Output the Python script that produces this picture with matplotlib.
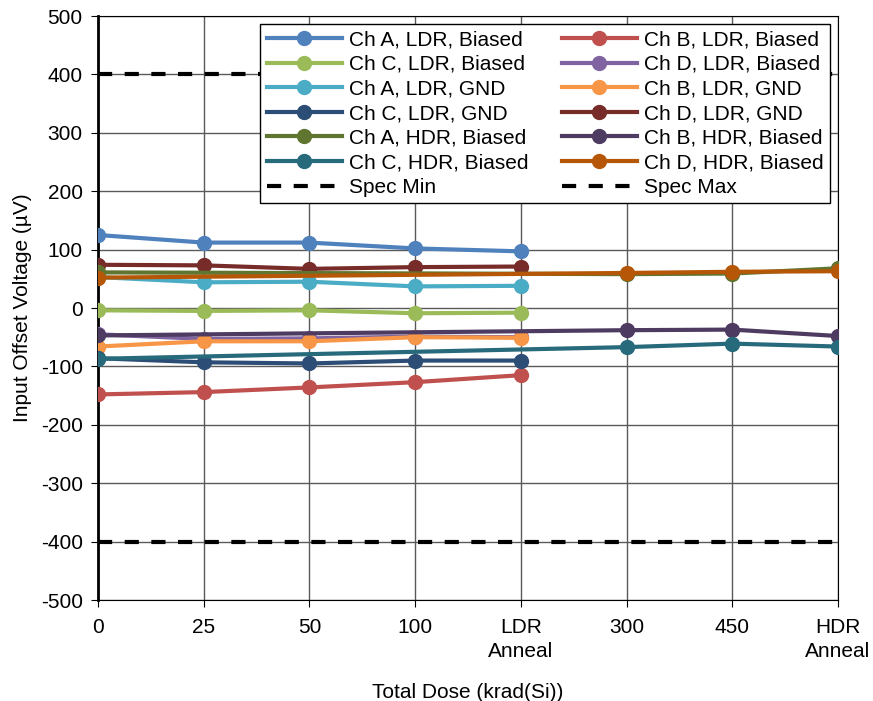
import matplotlib.pyplot as plt

plt.rcParams['font.family'] = ['Liberation Sans', 'DejaVu Sans']
plt.rcParams['axes.unicode_minus'] = False

# Categories on the x axis
categories = ['0', '25', '50', '100', 'LDR\nAnneal', '300', '450', 'HDR\nAnneal']
ldr_idx = [0, 1, 2, 3, 4]
hdr_idx = [0, 5, 6, 7]

# Input offset voltage (uV)
a_ldr_biased = [125, 112, 112, 102, 97]
b_ldr_biased = [-148, -144, -136, -127, -115]
c_ldr_biased = [-4, -5, -4, -9, -8]
d_ldr_biased = [-45, -53, -52, -49, -50]
a_ldr_gnd = [53, 44, 45, 37, 38]
b_ldr_gnd = [-66, -57, -57, -50, -51]
c_ldr_gnd = [-86, -93, -95, -90, -90]
d_ldr_gnd = [74, 73, 67, 70, 71]
a_hdr_biased = [61, 58, 59, 68]
b_hdr_biased = [-47, -38, -37, -48]
c_hdr_biased = [-87, -67, -61, -66]
d_hdr_biased = [52, 60, 62, 63]
spec_min = [400] * 8
spec_max = [-400] * 8

series = [
    ('Ch A, LDR, Biased', ldr_idx, a_ldr_biased, '#4F81BD'),
    ('Ch B, LDR, Biased', ldr_idx, b_ldr_biased, '#C0504D'),
    ('Ch C, LDR, Biased', ldr_idx, c_ldr_biased, '#9BBB59'),
    ('Ch D, LDR, Biased', ldr_idx, d_ldr_biased, '#8064A2'),
    ('Ch A, LDR, GND', ldr_idx, a_ldr_gnd, '#4BACC6'),
    ('Ch B, LDR, GND', ldr_idx, b_ldr_gnd, '#F79646'),
    ('Ch C, LDR, GND', ldr_idx, c_ldr_gnd, '#2C4D75'),
    ('Ch D, LDR, GND', ldr_idx, d_ldr_gnd, '#772C2A'),
    ('Ch A, HDR, Biased', hdr_idx, a_hdr_biased, '#5F7530'),
    ('Ch B, HDR, Biased', hdr_idx, b_hdr_biased, '#4D3B62'),
    ('Ch C, HDR, Biased', hdr_idx, c_hdr_biased, '#276A7C'),
    ('Ch D, HDR, Biased', hdr_idx, d_hdr_biased, '#B65708'),
]

fs = 15

fig = plt.figure(figsize=(8.73, 7.01), dpi=100)
ax = fig.add_axes([98 / 873, 1 - 600 / 701, 740 / 873, 584 / 701])

handles = []
for name, xs, ys, col in series:
    h, = ax.plot(xs, ys, '-o', color=col, lw=3, markersize=10, label=name, zorder=3)
    handles.append(h)

all_x = list(range(len(categories)))
h, = ax.plot(all_x, spec_min, '--', color='black', lw=3, dashes=(3.4, 3.0), label='Spec Min', zorder=2)
handles.append(h)
h, = ax.plot(all_x, spec_max, '--', color='black', lw=3, dashes=(3.4, 3.0), label='Spec Max', zorder=2)
handles.append(h)

ax.set_xlim(0, 7)
ax.set_ylim(-500, 500)
ax.set_xticks(all_x)
ax.set_xticklabels(categories, fontsize=fs, linespacing=1.3)
ax.set_yticks(range(-500, 501, 100))
ax.tick_params(axis='y', labelsize=fs, length=5, direction='out', pad=6)
ax.tick_params(axis='x', length=5, direction='out', pad=8)
ax.grid(True, color='#5a5a5a', lw=1, zorder=0)
ax.set_axisbelow(True)

ax.spines['left'].set_linewidth(2)
for s in ['top', 'right', 'bottom']:
    ax.spines[s].set_color('black')

ax.set_ylabel('Input Offset Voltage (µV)', fontsize=fs, labelpad=6)
ax.set_xlabel('Total Dose (krad(Si))', fontsize=fs, labelpad=16)

# Excel fills legend row by row, matplotlib column by column
order = handles[0::2] + handles[1::2]
leg = ax.legend(handles=order, labels=[h.get_label() for h in order], ncol=2,
                loc='upper right', bbox_to_anchor=(732 / 740, 576 / 584),
                borderaxespad=0, fontsize=fs,
                frameon=True, fancybox=False, edgecolor='black', framealpha=1,
                handlelength=3.6, handletextpad=0.35, columnspacing=1.6,
                labelspacing=0.27, borderpad=0.3)
leg.get_frame().set_linewidth(1)
leg.set_zorder(5)

fig.savefig('out.png', dpi=100)
